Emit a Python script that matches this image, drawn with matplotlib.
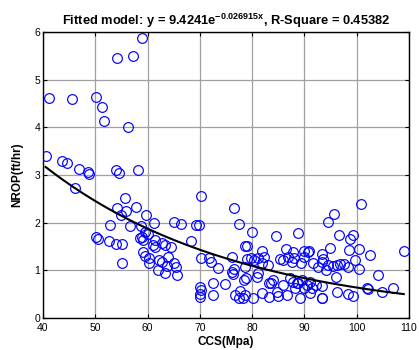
import matplotlib
matplotlib.use('Agg')
import matplotlib.pyplot as plt
import numpy as np

plt.rcParams['font.family'] = ['Liberation Sans', 'DejaVu Sans']
plt.rcParams['mathtext.fontset'] = 'custom'
plt.rcParams['mathtext.bf'] = 'Liberation Sans:bold'
plt.rcParams['mathtext.rm'] = 'Liberation Sans:bold'

# compressive strength (MPa) vs normalised ROP (ft/hr)
ccs = [59.0, 54.1, 57.3, 41.2, 45.6, 50.2, 51.2, 51.6, 56.3, 40.5, 43.7, 44.5,
       46.9, 48.7, 48.8, 53.9, 54.6, 58.1, 46.1, 55.7, 54.2, 55.8, 55.0, 57.8,
       52.8, 56.7, 50.1, 50.6, 52.6, 54.0, 55.2, 55.2, 58.5,
       70.2, 59.7, 61.2, 65.0, 66.4, 69.2, 69.8, 68.3, 58.7, 59.5, 60.1, 58.9,
       59.2, 61.1, 61.5, 62.7, 63.3, 64.4, 61.4, 59.5, 60.3, 60.3, 62.2, 62.8,
       63.8, 65.0, 65.4, 62.0, 63.3, 65.6, 70.2, 71.7, 72.1, 73.5, 72.6, 74.8,
       70.0, 70.2, 70.1, 70.0, 72.6, 76.5, 77.5, 80.0, 84.5, 79.1, 76.2, 76.1,
       76.4, 59.2, 64.0,
       88.8, 78.6, 81.9, 86.4, 89.9, 90.9, 79.0, 79.7, 80.3, 81.2, 82.3, 81.8,
       83.1, 85.3, 85.9, 86.9, 87.6, 88.0, 89.3, 89.9, 90.7, 91.7, 92.6, 93.3,
       78.6, 76.5, 78.4, 78.8, 80.9, 81.2, 83.3, 83.9, 85.9, 87.2, 87.9, 88.8,
       89.5, 90.4, 91.4, 92.3, 76.7, 77.5, 78.2, 78.6, 80.1, 77.7, 81.8, 83.3,
       85.0, 86.6, 89.1, 91.1, 93.3, 87.9, 84.7, 88.2, 88.5, 83.7, 90.0, 91.0,
       100.8, 95.6, 94.5, 96.6, 98.8, 99.3, 94.9, 98.6, 100.5, 102.5, 109.0,
       93.4, 93.6, 94.5, 95.5, 96.2, 96.9, 97.6, 98.4, 99.7, 100.5, 94.2, 96.0,
       104.1, 93.3, 96.2, 98.4, 99.3, 101.9, 102.2, 104.8, 106.9, 93.3]
nrop = [5.87, 5.46, 5.50, 4.61, 4.60, 4.63, 4.42, 4.14, 4.00, 3.39, 3.30, 3.26,
        3.12, 3.07, 3.03, 3.10, 3.04, 3.10, 2.72, 2.51, 2.30, 2.25, 2.16, 2.32,
        1.95, 1.93, 1.69, 1.65, 1.62, 1.55, 1.55, 1.16, 1.68,
        2.56, 2.16, 2.00, 2.02, 1.97, 1.95, 1.95, 1.61, 1.94, 1.81, 1.76, 1.70,
        1.64, 1.53, 1.48, 1.58, 1.53, 1.49, 1.64, 1.30, 1.25, 1.16, 1.22, 1.17,
        1.09, 1.15, 1.06, 1.01, 0.95, 0.90, 1.25, 1.25, 1.17, 1.05, 0.74, 0.71,
        0.66, 0.59, 0.51, 0.45, 0.48, 2.31, 1.97, 1.81, 1.72, 1.51, 1.27, 0.97,
        0.92, 1.38, 1.27,
        1.79, 1.51, 1.40, 1.44, 1.41, 1.41, 1.23, 1.25, 1.22, 1.25, 1.27, 1.15,
        1.11, 1.23, 1.22, 1.27, 1.18, 1.25, 1.16, 1.27, 1.39, 1.15, 1.08, 1.18,
        1.06, 1.02, 0.80, 0.83, 0.87, 0.94, 0.73, 0.80, 0.69, 0.83, 0.76, 0.73,
        0.80, 0.69, 0.62, 0.69, 0.48, 0.43, 0.41, 0.48, 0.43, 0.57, 0.52, 0.45,
        0.46, 0.48, 0.41, 0.52, 0.41, 1.39, 0.55, 0.64, 0.73, 0.73, 0.62, 0.75,
        2.40, 2.18, 2.01, 1.74, 1.65, 1.74, 1.46, 1.43, 1.44, 1.32, 1.41,
        1.34, 1.23, 1.11, 1.09, 1.11, 1.13, 1.13, 1.08, 1.22, 1.02, 1.01, 0.85,
        0.90, 0.67, 0.55, 0.50, 0.46, 0.64, 0.61, 0.55, 0.64, 0.41]

# exponential model y = a*exp(b*x)
a, b = 9.4241, -0.026915
r_square = 0.45382

fig = plt.figure(figsize=(4.19, 3.5), dpi=100)
ax = fig.add_axes([0.1026, 0.0914, 0.8735, 0.8172])

ax.plot(ccs, nrop, 'o', ms=7, mfc='none', mec='#0000ff', mew=0.85, zorder=3)
xfit = np.linspace(min(ccs), max(ccs), 200)
ax.plot(xfit, a*np.exp(b*xfit), color='black', lw=1.5, zorder=4)

ax.set_xlim(40, 110)
ax.set_ylim(0, 6)
ax.set_xticks(range(40, 111, 10))
ax.set_yticks(range(0, 7))
ax.grid(True, color='#a0a0a0', lw=0.9)
ax.set_axisbelow(True)
ax.tick_params(direction='in', length=3, width=0.8, labelsize=7.5, top=True, right=True)
ax.tick_params(axis='x', pad=3.5)
ax.tick_params(axis='y', pad=2)
for s in ax.spines.values():
    s.set_linewidth(1.0)

ax.set_xlabel('CCS(Mpa)', fontsize=8.5, fontweight='bold', labelpad=2)
ax.set_ylabel('NROP(ft/hr)', fontsize=8.5, fontweight='bold', labelpad=8)
ax.set_title(r'Fitted model: y = 9.4241e$^{\mathbf{-0.026915x}}$, R-Square = %.5f' % r_square,
             fontsize=9.3, fontweight='bold', pad=5)

fig.savefig('out.png', dpi=100)
